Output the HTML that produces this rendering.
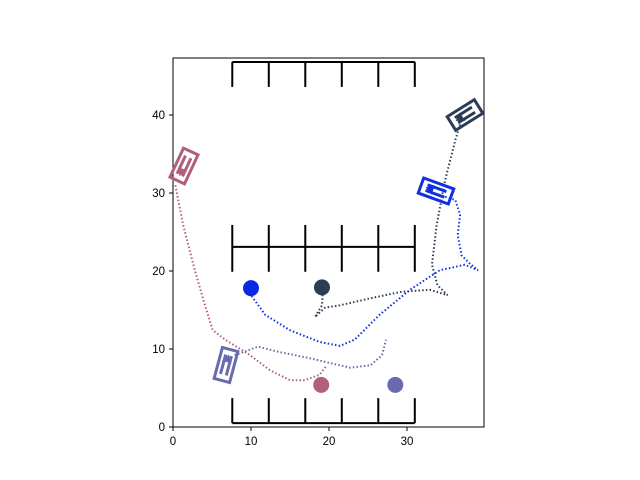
<!DOCTYPE html>
<html><head><meta charset="utf-8"><style>body{margin:0;background:#fff}svg{display:block;font-family:"Liberation Sans",sans-serif}</style></head>
<body>
<svg id="c" width="640" height="480"></svg>
<script>
const xTicks=[0,10,20,30];
const yTicks=[0,10,20,30,40];
const pinkX=[0.3,1.3,2.8,4.1,5.1,6.7,9.9,12.4,15,16.9,18.8,19.7];
const pinkY=[31,25.9,20.1,15.6,12.4,11.2,9.2,7.3,6,6,6.7,7.9];
const purpleX=[7.9,10.9,13.7,17.6,22.7,25.3,26.8,27.3];
const purpleY=[9.2,10.3,9.6,8.8,7.6,7.9,9.2,11.2];
const blueX=[34,36.2,36.8,36.5,37,38,39.1,37.4,34.2,30.4,26.5,23.3,21.4,18.8,15,11.8,10];
const blueY=[29.8,29.1,27.2,24.6,22,21,20.1,20.8,20.1,17.6,14.4,11.2,10.4,10.9,12.4,14.4,16.9];
const darkX=[36.8,36.2,34.9,33.8,33.2,33.9,35.2,32.9,29.1,25.3,21.4,19.5,18.2,19.1,19.2];
const darkY=[38.8,36.8,31.7,25.9,20.8,18.2,16.9,17.6,17.3,16.5,15.6,15.3,14.1,15.6,17.2];
const goalsX=[10,19.1,19,28.5];
const goalsY=[17.8,17.9,5.4,5.4];
const goalColors=['#0a28e6','#2b3d55','#b0607a','#6a6aae'];
const X=v=>173+7.8*v, Y=v=>427-7.8*v;
const svg=document.getElementById('c');const NS='http://www.w3.org/2000/svg';
function mk(t,a,p){const e=document.createElementNS(NS,t);for(const k in a)e.setAttribute(k,a[k]);(p||svg).appendChild(e);return e;}
const ax=mk('rect',{x:173,y:58,width:311,height:369,fill:'#fff',stroke:'#000','stroke-width':1});

xTicks.forEach(v=>{mk('line',{x1:X(v),x2:X(v),y1:427,y2:431,stroke:'#000'});const t=mk('text',{x:X(v),y:445,'text-anchor':'middle','font-size':11.5});t.textContent=v;
});
yTicks.forEach(v=>{mk('line',{x1:169,x2:173,y1:Y(v),y2:Y(v),stroke:'#000'});const t=mk('text',{x:165,y:Y(v)+4,'text-anchor':'end','font-size':11.5});t.textContent=v;
});
function row(yl,yt,name){const g=mk('g',{stroke:'#000','stroke-width':2});
mk('line',{x1:X(7.6),x2:X(31),y1:Y(yl),y2:Y(yl)},g);
for(let i=0;i<6;i++){const x=7.6+i*(31-7.6)/5;mk('line',{x1:X(x),x2:X(x),y1:Y(yt[0]),y2:Y(yt[1])},g);}}
row(46.8,[46.8,43.6],'parking-row-top');row(23.1,[25.9,19.9],'parking-row-middle');row(0.5,[0.5,3.7],'parking-row-bottom');
function path(xs,ys,col,name){const p=mk('polyline',{points:xs.map((x,i)=>X(x)+','+Y(ys[i])).join(' '),fill:'none',stroke:col,'stroke-width':2,'stroke-dasharray':'1.5 2.2'});
}
path(pinkX,pinkY,'#b0607a','pink-trajectory');path(purpleX,purpleY,'#6a6aae','purple-trajectory');
path(blueX,blueY,'#1030e0','blue-trajectory');path(darkX,darkY,'#2b3d55','dark-trajectory');
goalsX.forEach((x,i)=>{const c=mk('circle',{cx:X(x),cy:Y(goalsY[i]),r:8,fill:goalColors[i]});
});
function car(cx,cy,ang,col,name){const g=mk('g',{transform:`translate(${cx},${cy}) rotate(${ang})`,stroke:col,fill:'none','stroke-width':3});

mk('rect',{x:-16,y:-8,width:32,height:16},g);
mk('line',{x1:-10,x2:10,y1:-3,y2:-3},g);mk('line',{x1:-10,x2:10,y1:3,y2:3},g);
mk('polygon',{points:'-11,0 -3,-5 -3,5',fill:col,stroke:'none'},g);}
car(465,115,-32,'#2b3d55','dark-car');car(436,191,20,'#1030e0','blue-car');
car(184,166,-65,'#b0607a','pink-car');car(226,365,105,'#6a6aae','purple-car');
</script>
</body></html>
